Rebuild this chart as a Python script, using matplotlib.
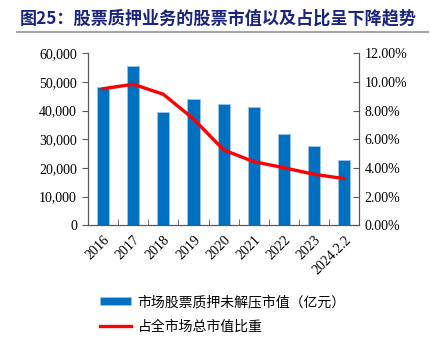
import matplotlib
matplotlib.use("Agg")
import matplotlib.pyplot as plt
from matplotlib.ticker import FuncFormatter, FixedLocator
import numpy as np

# data
years = ["2016", "2017", "2018", "2019", "2020", "2021", "2022", "2023", "2024.2.2"]
pledge_value = [48100, 55700, 39600, 43900, 42300, 41200, 31700, 27700, 22700]  # 亿元
pledge_share = [9.53, 9.84, 9.14, 7.42, 5.26, 4.44, 4.02, 3.56, 3.26]  # %

title = "图25：股票质押业务的股票市值以及占比呈下降趋势"
bar_label = "市场股票质押未解压市值（亿元）"
line_label = "占全市场总市值比重"

cjk = ["Noto Sans CJK SC", "DejaVu Sans"]
serif = ["Liberation Serif", "DejaVu Serif"]

fig = plt.figure(figsize=(4.3, 3.6), dpi=100)
ax = fig.add_axes([0.2047, 0.374, 0.6309, 0.478])
ax2 = ax.twinx()

x = np.arange(len(years))
bars = ax.bar(x, pledge_value, width=0.4, color="#0070C0",
              edgecolor="#9DC3E6", linewidth=0.6, label=bar_label, zorder=2)
line, = ax2.plot(x, pledge_share, color="#FF0000", linewidth=2.4,
                 label=line_label, zorder=3)

ax.set_xlim(-0.5, len(years) - 0.5)
ax.set_ylim(0, 60000)
ax2.set_ylim(0, 12)
ax.set_yticks(range(0, 60001, 10000))
ax2.set_yticks(range(0, 13, 2))
ax.yaxis.set_major_formatter(FuncFormatter(lambda v, p: f"{int(v):,}"))
ax2.yaxis.set_major_formatter(FuncFormatter(lambda v, p: f"{v:.2f}%"))

ax.set_xticks(x)
ax.set_xticklabels(years, rotation=45, ha="right", rotation_mode="anchor",
                   fontfamily=serif, fontsize=10)
ax.xaxis.set_minor_locator(FixedLocator(np.arange(0.5, len(years) - 0.5, 1)))
ax.tick_params(axis="x", which="major", length=0, pad=6)
ax.tick_params(axis="x", which="minor", direction="in", length=4, color="#595959")

ax.tick_params(axis="y", direction="out", length=4, color="#595959", pad=4)
ax2.tick_params(axis="y", direction="in", length=4, color="#595959", pad=4)
for lab in ax.get_yticklabels() + ax2.get_yticklabels():
    lab.set_fontfamily(serif)
    lab.set_fontsize(10)

for a in (ax, ax2):
    a.spines["top"].set_visible(False)
    for s in ("left", "right", "bottom"):
        a.spines[s].set_color("#595959")
        a.spines[s].set_linewidth(0.8)

# title and rule under it
fig.text(0.045, 0.948, title, fontsize=12.3, fontweight="bold",
         color="#1A237E", fontfamily=cjk, va="center", ha="left")
fig.add_artist(plt.Line2D([0.04, 0.995], [0.91, 0.91], color="#A6A6A6",
                          linewidth=1.5, transform=fig.transFigure))

leg = fig.legend([bars, line], [bar_label, line_label], loc="upper left",
                 bbox_to_anchor=(0.204, 0.215), frameon=False,
                 prop={"family": cjk, "size": 10}, handlelength=2.2,
                 handleheight=0.55, handletextpad=0.5, labelspacing=0.75)

fig.savefig("out.png", dpi=100)
